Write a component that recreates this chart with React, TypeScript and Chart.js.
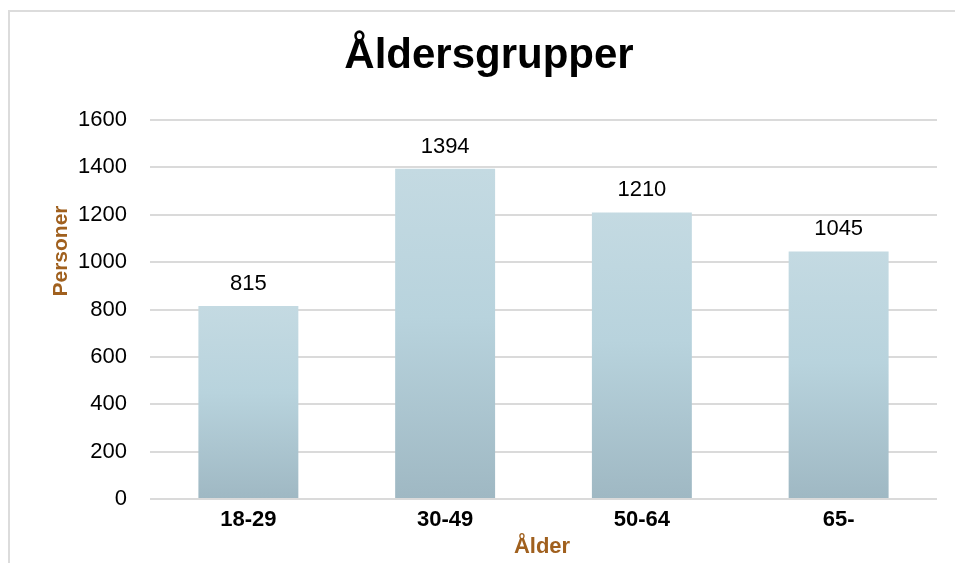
import React, { useEffect, useRef } from "react";
import { Chart, registerables } from "chart.js";
Chart.register(...registerables);

const chartTitle = "Åldersgrupper";
const xAxisTitle = "Ålder";
const yAxisTitle = "Personer";
const categories = ["18-29", "30-49", "50-64", "65-"];
const values = [815, 1394, 1210, 1045];
const yMin = 0;
const yMax = 1600;
const yStep = 200;

const FONT = "'Liberation Sans', Arial, sans-serif";
const BROWN = "#A0601E";
const GRID = "#dadada";

export default function App() {
  const canvasRef = useRef<HTMLCanvasElement | null>(null);

  useEffect(() => {
    document.body.style.margin = "0";
    document.body.style.overflow = "hidden";
    const canvas = canvasRef.current;
    if (!canvas) return;

    const decorPlugin = {
      id: "decor",
      beforeDraw(chart: any) {
        const c = chart.ctx;
        c.save();
        c.fillStyle = "#ffffff";
        c.fillRect(0, 0, chart.width, chart.height);
        c.strokeStyle = "#dcdcdc";
        c.lineWidth = 2;
        c.strokeRect(9, 11, chart.width + 50, chart.height + 50);
        // chart title
        c.font = `bold 42px ${FONT}`;
        c.fillStyle = "#000000";
        c.textAlign = "center";
        c.textBaseline = "alphabetic";
        c.fillText(chartTitle, 489, 68);
        c.restore();
      },
      afterDatasetsDraw(chart: any) {
        const c = chart.ctx;
        const meta = chart.getDatasetMeta(0);
        c.save();
        c.font = `22px ${FONT}`;
        c.fillStyle = "#000000";
        c.textAlign = "center";
        c.textBaseline = "alphabetic";
        meta.data.forEach((bar: any, i: number) => {
          c.fillText(String(values[i]), bar.x, bar.y - 16);
        });
        // y axis title
        c.save();
        c.translate(67, 251);
        c.rotate(-Math.PI / 2);
        c.font = `bold 21px ${FONT}`;
        c.fillStyle = BROWN;
        c.textAlign = "center";
        c.textBaseline = "alphabetic";
        c.fillText(yAxisTitle, 0, 0);
        c.restore();
        // x axis title
        c.font = `bold 22px ${FONT}`;
        c.fillStyle = BROWN;
        c.textAlign = "center";
        c.textBaseline = "alphabetic";
        c.fillText(xAxisTitle, 542, 553);
        c.restore();
      },
    };

    const chart = new Chart(canvas, {
      type: "bar",
      data: {
        labels: categories,
        datasets: [
          {
            data: values,
            barPercentage: 0.508,
            categoryPercentage: 1,
            backgroundColor: (ctx: any) => {
              const ch = ctx.chart;
              const area = ch.chartArea;
              if (!area || ctx.type !== "data") return "#b8d3dd";
              const ys = ch.scales.y;
              const v = values[ctx.dataIndex];
              const top = ys.getPixelForValue(v);
              const base = ys.getPixelForValue(0);
              const g = ch.ctx.createLinearGradient(0, top, 0, base);
              g.addColorStop(0, "#c4dae2");
              g.addColorStop(0.45, "#b8d3dd");
              g.addColorStop(1, "#9fb8c3");
              return g;
            },
            borderWidth: 0,
          },
        ],
      },
      options: {
        animation: false,
        responsive: false,
        maintainAspectRatio: false,
        layout: { padding: { left: 0, right: 18, top: 120, bottom: 0 } },
        plugins: {
          legend: { display: false },
          tooltip: { enabled: false },
          title: { display: false },
        },
        scales: {
          x: {
            grid: { display: false },
            border: { display: false },
            ticks: {
              color: "#000000",
              font: { family: FONT, size: 22, weight: "bold" },
              padding: 0,
              maxRotation: 0,
            },
            afterFit(scale: any) {
              scale.height = 64;
            },
          },
          y: {
            min: yMin,
            max: yMax,
            grid: { color: GRID, lineWidth: 2, drawTicks: false },
            border: { display: false },
            ticks: {
              stepSize: yStep,
              color: "#000000",
              font: { family: FONT, size: 22 },
              padding: 23,
              callback: (v: any) => String(v),
            },
            afterFit(scale: any) {
              scale.width = 150;
            },
          },
        },
      },
      plugins: [decorPlugin],
    });

    return () => chart.destroy();
  }, []);

  return (
    <div style={{ width: 955, height: 563 }}>
      <canvas ref={canvasRef} width={955} height={563} style={{ display: "block" }} />
    </div>
  );
}
